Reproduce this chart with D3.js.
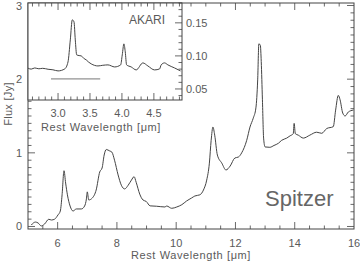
<!DOCTYPE html>
<html>
<head>
<meta charset="utf-8">
<script src="https://cdn.jsdelivr.net/npm/d3@7"></script>
<style>
body{margin:0;background:#fff;}
text{font-family:"Liberation Sans",Arial,sans-serif;fill:#5a5a5a;}
</style>
</head>
<body>
<svg id="chart" width="360" height="261"></svg>
<script>
// Spitzer spectrum (rest wavelength in um, flux in Jy)
var spitzerWave = [5.11,5.25,5.34,5.45,5.56,5.70,5.79,5.90,6.01,6.09,6.15,6.215,6.27,6.33,6.42,6.52,6.63,6.80,6.91,6.97,7.0,7.05,7.17,7.30,7.42,7.50,7.57,7.64,7.76,7.83,7.92,8.04,8.15,8.26,8.38,8.49,8.58,8.65,8.77,8.88,8.99,9.12,9.34,9.62,9.68,9.85,10.02,10.19,10.35,10.52,10.63,10.80,10.92,11.03,11.12,11.18,11.24,11.30,11.39,11.54,11.68,11.82,11.98,12.10,12.21,12.38,12.49,12.60,12.69,12.75,12.79,12.84,12.87,12.91,12.95,13.00,13.16,13.30,13.45,13.56,13.73,13.84,13.95,13.98,14.02,14.12,14.29,14.51,14.74,14.91,15.08,15.30,15.38,15.47,15.53,15.62,15.70,15.81,15.98];
var spitzerFlux = [0.02,0.06,0.048,0.007,0.034,0.098,0.088,0.10,0.156,0.21,0.43,0.757,0.59,0.43,0.278,0.21,0.238,0.238,0.278,0.373,0.47,0.36,0.387,0.495,0.74,0.794,0.97,1.045,1.025,1.01,0.90,0.70,0.56,0.51,0.56,0.63,0.676,0.60,0.44,0.36,0.34,0.28,0.275,0.265,0.278,0.247,0.265,0.296,0.346,0.387,0.414,0.43,0.495,0.63,0.86,1.17,1.35,1.24,0.97,0.86,0.767,0.82,0.93,0.943,1.0,1.17,1.35,1.47,1.61,1.99,2.48,2.46,2.24,1.72,1.2,1.08,1.075,1.10,1.13,1.17,1.20,1.23,1.26,1.40,1.26,1.24,1.20,1.24,1.28,1.265,1.33,1.355,1.58,1.78,1.72,1.54,1.50,1.555,1.58];

// AKARI inset spectrum
var akariWave = [2.531,2.58,2.636,2.70,2.76,2.844,2.92,3.0,3.105,3.156,3.192,3.223,3.25,3.270,3.292,3.33,3.364,3.40,3.442,3.48,3.520,3.625,3.70,3.781,3.886,3.980,4.005,4.031,4.052,4.073,4.145,4.223,4.328,4.406,4.511,4.589,4.614,4.667,4.719,4.823,4.917];
var akariFlux = [0.0814,0.0800,0.0818,0.0805,0.0812,0.0798,0.0790,0.0773,0.0803,0.0909,0.1242,0.1545,0.1515,0.1242,0.1015,0.1005,0.100,0.0965,0.0939,0.0905,0.0879,0.0848,0.0858,0.0864,0.0833,0.0864,0.1015,0.1182,0.1061,0.0864,0.0833,0.0788,0.0894,0.0848,0.0788,0.0803,0.0864,0.0894,0.0864,0.0818,0.0773];
var akariBarWave = [2.89, 3.66];
var akariBarFlux = 0.0652;

var mainXTicks = [6,8,10,12,14,16];
var mainYTicks = [0,1,2,3];
var insetXTicks = [3.0,3.5,4.0,4.5];
var insetYTicks = [0.05,0.10,0.15];

var svg = d3.select("#chart");
var frame = {left:28, right:354, top:3, bottom:229};
var inset = {left:28, right:182, top:3, bottom:100};
var ink = "#444";

var x = d3.scaleLinear().domain([5,16]).range([frame.left, frame.right]);
var y = d3.scaleLinear().domain([-0.034,3.034]).range([frame.bottom, frame.top]);
var xi = d3.scaleLinear().domain([2.53,4.94]).range([inset.left, inset.right]);
var yi = d3.scaleLinear().domain([0.0333,0.18]).range([inset.bottom, inset.top]);

// main spectrum
var mainLine = d3.line()
    .x(function(d,i){ return x(spitzerWave[i]); })
    .y(function(d){ return y(d); })
    .curve(d3.curveMonotoneX);
svg.append("path")
    .attr("d", mainLine(spitzerFlux))
    .attr("fill","none").attr("stroke",ink).attr("stroke-width",1);

// ticks drawn inward, IDL style
function ticksX(g, scale, major, minorStep, y0, dir, lo, hi){
    var minor = d3.range(Math.ceil(lo/minorStep)*minorStep, hi+1e-9, minorStep);
    minor.forEach(function(v){
        var isMajor = major.some(function(m){ return Math.abs(m-v) < 1e-6; });
        g.append("line")
            .attr("x1", scale(v)).attr("x2", scale(v))
            .attr("y1", y0).attr("y2", y0 + dir*(isMajor ? 7 : 3.5))
            .attr("stroke", ink).attr("stroke-width",0.8);
    });
}
function ticksY(g, scale, major, minorStep, x0, dir, lo, hi){
    var minor = d3.range(Math.ceil(lo/minorStep-1e-6)*minorStep, hi+1e-9, minorStep);
    minor.forEach(function(v){
        var isMajor = major.some(function(m){ return Math.abs(m-v) < 1e-6; });
        g.append("line")
            .attr("y1", scale(v)).attr("y2", scale(v))
            .attr("x1", x0).attr("x2", x0 + dir*(isMajor ? 7 : 3.5))
            .attr("stroke", ink).attr("stroke-width",0.8);
    });
}

var axes = svg.append("g");
axes.append("rect")
    .attr("x",frame.left).attr("y",frame.top)
    .attr("width",frame.right-frame.left).attr("height",frame.bottom-frame.top)
    .attr("fill","none").attr("stroke",ink).attr("stroke-width",1);

// inset box (white, covers main area)
var ig = svg.append("g");
ig.append("rect")
    .attr("x",inset.left).attr("y",inset.top)
    .attr("width",inset.right-inset.left).attr("height",inset.bottom-inset.top)
    .attr("fill","#fff").attr("stroke",ink).attr("stroke-width",1);

var insetLine = d3.line()
    .x(function(d,i){ return xi(akariWave[i]); })
    .y(function(d){ return yi(d); })
    .curve(d3.curveMonotoneX);
ig.append("path")
    .attr("d", insetLine(akariFlux))
    .attr("fill","none").attr("stroke",ink).attr("stroke-width",1);
ig.append("line")
    .attr("x1", xi(akariBarWave[0])).attr("x2", xi(akariBarWave[1]))
    .attr("y1", yi(akariBarFlux)).attr("y2", yi(akariBarFlux))
    .attr("stroke","#777").attr("stroke-width",1);

ticksX(ig, xi, insetXTicks, 0.1, inset.bottom, -1, 2.6, 4.9);
ticksX(ig, xi, insetXTicks, 0.1, inset.top, 1, 2.6, 4.9);
ticksY(ig, yi, insetYTicks, 0.01, inset.right, -1, 0.04, 0.18);

ticksX(axes, x, mainXTicks, 0.5, frame.bottom, -1, 5.5, 15.5);
ticksX(axes, x, mainXTicks, 0.5, frame.top, 1, 5.5, 15.5);
ticksY(axes, y, mainYTicks, 0.1, frame.left, 1, 0, 3);
ticksY(axes, y, mainYTicks, 0.1, frame.right, -1, 0, 3);

// labels
svg.selectAll(".mx").data(mainXTicks).enter().append("text")
    .attr("x", function(d){ return x(d); }).attr("y", 247)
    .attr("text-anchor","middle").attr("font-size",11)
    .text(function(d){ return d; });
svg.selectAll(".my").data(mainYTicks).enter().append("text")
    .attr("x", 22).attr("y", function(d){ return y(d) + 4; })
    .attr("text-anchor","end").attr("font-size",11)
    .text(function(d){ return d; });
svg.append("text")
    .attr("x", 191).attr("y", 259)
    .attr("text-anchor","middle").attr("font-size",11)
    .attr("letter-spacing",0.6)
    .text("Rest Wavelength [\u03bcm]");
svg.append("text")
    .attr("transform","translate(12,104) rotate(-90)")
    .attr("text-anchor","middle").attr("font-size",11)
    .attr("letter-spacing",0.3)
    .text("Flux [Jy]");

svg.selectAll(".ix").data(insetXTicks).enter().append("text")
    .attr("x", function(d){ return xi(d); }).attr("y", 117)
    .attr("text-anchor","middle").attr("font-size",11)
    .text(function(d){ return d.toFixed(1); });
svg.append("text")
    .attr("x", 101).attr("y", 131)
    .attr("text-anchor","middle").attr("font-size",11)
    .attr("letter-spacing",0.6)
    .text("Rest Wavelength [\u03bcm]");
svg.selectAll(".iy").data(insetYTicks).enter().append("text")
    .attr("x", 186).attr("y", function(d){ return yi(d) + 4; })
    .attr("text-anchor","start").attr("font-size",11)
    .text(function(d){ return d.toFixed(2); });

svg.append("text")
    .attr("x", 129).attr("y", 24)
    .attr("font-size",12)
    .text("AKARI");
svg.append("text")
    .attr("x", 265).attr("y", 206)
    .attr("font-size",22)
    .style("fill","#666")
    .text("Spitzer");
</script>
</body>
</html>
